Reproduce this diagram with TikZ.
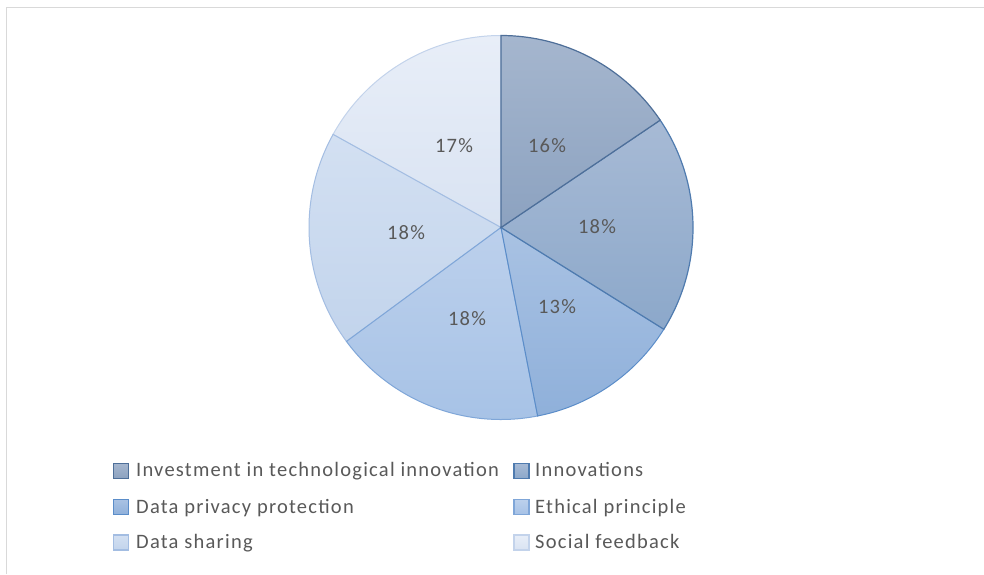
\documentclass[tikz,border=0pt]{standalone}
\usepackage{fontspec}
\setmainfont{Carlito}[LetterSpace=6]
\begin{document}
\begin{tikzpicture}[x=1pt,y=1pt,
  lbl/.style={text=txtgray,font=\fontsize{20.5}{22}\selectfont,inner sep=0pt},
  leg/.style={text=txtgray,font=\fontsize{20.5}{22}\selectfont,inner sep=0pt,anchor=base west},
  sw/.style={minimum size=15pt,inner sep=0pt,line width=1.2pt}]
\definecolor{txtgray}{HTML}{595959}
\definecolor{frame}{HTML}{D9D9D9}
\definecolor{aT}{HTML}{A5B6CE}\definecolor{aB}{HTML}{8CA2C0}\definecolor{aE}{HTML}{4E6F99}
\definecolor{bT}{HTML}{A7BAD5}\definecolor{bB}{HTML}{8CA8CA}\definecolor{bE}{HTML}{4F7BAF}
\definecolor{cT}{HTML}{A9C2E3}\definecolor{cB}{HTML}{8FB0DA}\definecolor{cE}{HTML}{5B8DC9}
\definecolor{dT}{HTML}{BCD0EC}\definecolor{dB}{HTML}{A6C2E6}\definecolor{dE}{HTML}{7FA6D8}
\definecolor{eT}{HTML}{D3E0F2}\definecolor{eB}{HTML}{C2D4EC}\definecolor{eE}{HTML}{A3BDE2}
\definecolor{fT}{HTML}{E8EEF8}\definecolor{fB}{HTML}{D9E3F2}\definecolor{fE}{HTML}{C3D3EB}
\useasboundingbox (0,0) rectangle (984,574);
\fill[white] (0,0) rectangle (984,574);
% frame
\draw[frame,line width=1.5pt] (6.5,0) -- (6.5,566.5) -- (984,566.5);
% pie
\coordinate (c) at (501,346.5);
\def\R{192}
\path[top color=fT,bottom color=fB,draw=fE,line width=1pt] (c) -- ++(-209:\R) arc[start angle=-209,end angle=-270,radius=\R] -- cycle;
\path[top color=eT,bottom color=eB,draw=eE,line width=1pt] (c) -- ++(-143.6:\R) arc[start angle=-143.6,end angle=-209,radius=\R] -- cycle;
\path[top color=dT,bottom color=dB,draw=dE,line width=1pt] (c) -- ++(-79:\R) arc[start angle=-79,end angle=-143.6,radius=\R] -- cycle;
\path[top color=cT,bottom color=cB,draw=cE,line width=1pt] (c) -- ++(-32:\R) arc[start angle=-32,end angle=-79,radius=\R] -- cycle;
\path[top color=bT,bottom color=bB,draw=bE,line width=1.2pt] (c) -- ++(34:\R) arc[start angle=34,end angle=-32,radius=\R] -- cycle;
\path[top color=aT,bottom color=aB,draw=aE,line width=1.2pt] (c) -- ++(90:\R) arc[start angle=90,end angle=34,radius=\R] -- cycle;
% labels
\node[lbl] (p1) at (547,428) {16\%};
\node[lbl] (p2) at (597,347) {18\%};
\node[lbl] (p3) at (557,267) {13\%};
\node[lbl] (p4) at (467,255) {18\%};
\node[lbl] (p5) at (406,341) {18\%};
\node[lbl] (p6) at (454,428) {17\%};
% legend
\node[sw,top color=aT,bottom color=aB,draw=aE] (s1) at (121,103) {};
\node[leg] (l1) at (136,97.3) {Investment in technological innovation};
\node[sw,top color=bT,bottom color=bB,draw=bE] (s2) at (521.5,103) {};
\node[leg] (l2) at (535,97.3) {Innovations};
\node[sw,top color=cT,bottom color=cB,draw=cE] (s3) at (121,67) {};
\node[leg] (l3) at (136,60.5) {Data privacy protection};
\node[sw,top color=dT,bottom color=dB,draw=dE] (s4) at (521.5,67) {};
\node[leg] (l4) at (535,60.5) {Ethical principle};
\node[sw,top color=eT,bottom color=eB,draw=eE] (s5) at (121,31.5) {};
\node[leg] (l5) at (136,25.5) {Data sharing};
\node[sw,top color=fT,bottom color=fB,draw=fE] (s6) at (521.5,31.5) {};
\node[leg] (l6) at (535,25.5) {Social feedback};
\end{tikzpicture}
\end{document}
